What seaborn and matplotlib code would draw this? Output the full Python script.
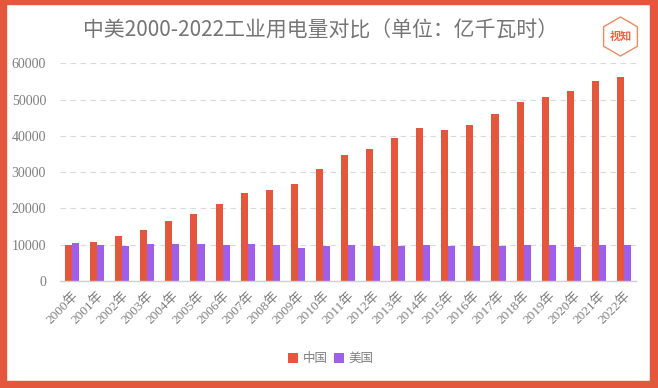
import numpy as np
import pandas as pd
import matplotlib
matplotlib.use("Agg")
import matplotlib.pyplot as plt
import seaborn as sns
from matplotlib.patches import Rectangle, Polygon

years = [f"{y}年" for y in range(2000, 2023)]
china = [9900, 10800, 12300, 14000, 16400, 18600, 21200, 24200, 25200, 26800,
         30800, 34700, 36300, 39300, 42300, 41700, 43000, 46000, 49200, 50700,
         52400, 55100, 56100]
usa = [10600, 9850, 9700, 10100, 10100, 10100, 9950, 10100, 9850, 9050,
       9700, 9850, 9700, 9700, 9850, 9700, 9700, 9700, 9850, 9850,
       9500, 9900, 9900]
series = ["中国", "美国"]
palette = ["#E4573D", "#9F5FEA"]

RED = "#E4573D"
GREY = "#7f7f7f"
FONT = ["Liberation Serif", "Noto Sans CJK SC", "DejaVu Sans"]

df = pd.DataFrame({
    "year": years * 2,
    "value": china + usa,
    "country": [series[0]] * len(years) + [series[1]] * len(years),
})

sns.set_theme(style="white")
plt.rcParams["font.family"] = FONT

W, H = 658, 388
fig = plt.figure(figsize=(W / 100, H / 100), dpi=100)
fig.patch.set_facecolor("white")


def px(x0, y0, x1, y1):
    # pixel box (top-left origin) -> figure fraction rect
    return [x0 / W, 1 - y1 / H, (x1 - x0) / W, (y1 - y0) / H]


ax = fig.add_axes(px(60, 63.3, 636, 281))
sns.barplot(data=df, x="year", y="value", hue="country", hue_order=series,
            palette=palette, width=0.56, saturation=1, linewidth=0,
            ax=ax, legend=True)
ax.set_ylim(0, 60000)
ax.set_xlim(-0.48, 22.48)
ax.set_yticks(range(0, 60001, 10000))
ax.yaxis.grid(True, color="#d9d9d9", linestyle=(0, (5, 4)), linewidth=0.8)
ax.set_axisbelow(True)
for s in ["top", "right", "left"]:
    ax.spines[s].set_visible(False)
ax.spines["bottom"].set_color("#d0d0d0")
ax.spines["bottom"].set_linewidth(1.0)
ax.set_xlabel("")
ax.set_ylabel("")
ax.tick_params(axis="y", length=0, pad=10, labelsize=10, labelcolor=GREY)
ax.tick_params(axis="x", length=0, pad=6, labelsize=9.5, labelcolor=GREY)
for lab in ax.get_xticklabels():
    lab.set_rotation(45)
    lab.set_ha("right")
    lab.set_rotation_mode("anchor")

leg = ax.legend(loc="center", bbox_to_anchor=(0.47, (281 - 359) / (281 - 63.3)),
                ncol=2, frameon=False, fontsize=9, handlelength=0.8,
                handleheight=0.8, handletextpad=0.4, columnspacing=0.5)
for t in leg.get_texts():
    t.set_color(GREY)

fig.text(321 / W, 1 - 31 / H, "中美2000-2022工业用电量对比（单位：亿千瓦时）",
         ha="center", va="center", fontsize=15, color="#757575",
         family=["Noto Sans CJK SC", "DejaVu Sans"])

# logo: pointy-top hexagon
cx, cy, r = 620.5, 36.5, 19.5
ang = np.deg2rad(90 + 60 * np.arange(6))
verts = [((cx + r * np.cos(a)) / W, 1 - (cy - r * np.sin(a)) / H) for a in ang]
fig.add_artist(Polygon(verts, closed=True, transform=fig.transFigure, fill=False,
                       edgecolor="#F08A5D", linewidth=1.0))
fig.text(cx / W, 1 - cy / H, "视知", ha="center", va="center", fontsize=8,
         color="#E9643F", weight="bold", family=["Noto Sans CJK SC"])

# red frame
for box in [(0, 0, 6, H), (650, 0, W, H), (0, 0, W, 4), (0, 381, W, H)]:
    fig.add_artist(Rectangle(px(*box)[:2], px(*box)[2], px(*box)[3],
                             transform=fig.transFigure, color=RED, zorder=10))

fig.savefig("out.png", dpi=100)
